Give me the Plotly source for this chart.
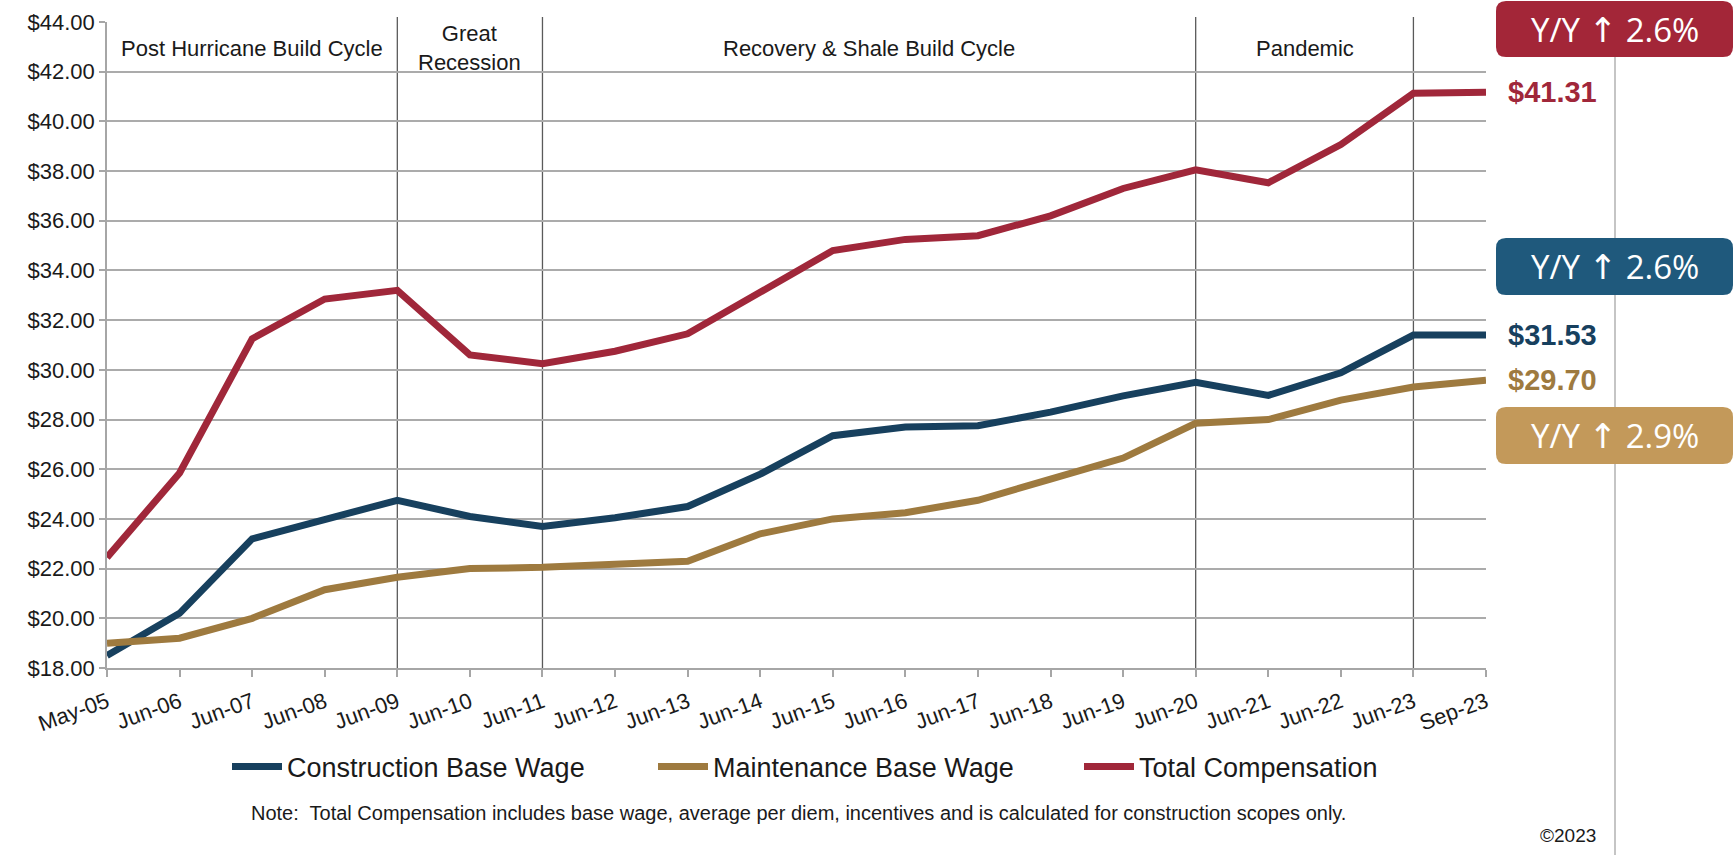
import plotly.graph_objects as go

# ---------------- data ----------------
categories = ["May-05", "Jun-06", "Jun-07", "Jun-08", "Jun-09", "Jun-10", "Jun-11",
              "Jun-12", "Jun-13", "Jun-14", "Jun-15", "Jun-16", "Jun-17", "Jun-18",
              "Jun-19", "Jun-20", "Jun-21", "Jun-22", "Jun-23", "Sep-23"]

construction_base = [18.50, 20.20, 23.20, 23.95, 24.75, 24.10, 23.70, 24.05, 24.50, 25.80,
                     27.35, 27.70, 27.75, 28.30, 28.95, 29.50, 28.97, 29.88, 31.40, 31.40]
maintenance_base = [19.00, 19.20, 20.00, 21.15, 21.65, 22.00, 22.05, 22.15, 22.30, 23.40,
                    24.00, 24.25, 24.75, 25.60, 26.45, 27.85, 28.00, 28.78, 29.31, 29.58]
total_compensation = [22.45, 25.85, 31.25, 32.85, 33.20, 30.60, 30.25, 30.75, 31.45, 33.10,
                      34.80, 35.25, 35.40, 36.20, 37.30, 38.05, 37.53, 39.07, 41.13, 41.17]

series_names = ["Construction Base Wage", "Maintenance Base Wage", "Total Compensation"]
latest_values = [31.53, 29.70, 41.31]
yoy_changes = [2.6, 2.9, 2.6]

period_labels = ["Post Hurricane Build Cycle", "Great<br>Recession",
                 "Recovery & Shale Build Cycle", "Pandemic"]
period_bounds = [0, 4, 6, 15, 18]
divider_positions = [4, 6, 15, 18]

y_ticks = [18, 20, 22, 24, 26, 28, 30, 32, 34, 36, 38, 40, 42, 44]

note_text = ("Note:  Total Compensation includes base wage, average per diem, incentives "
             "and is calculated for construction scopes only.")

# ---------------- styling ----------------
line_colors = ["#17405E", "#9E7A3F", "#A0273A"]
box_colors = ["#1F597C", "#C3995A", "#A32638"]

W, H = 1735, 855
L, R, T, B = 107, 249, 22, 187
pw, ph = W - L - R, H - T - B


def px_x(px):
    return (px - L) / pw


def px_y(py):
    return 1 - (py - T) / ph


x_idx = list(range(len(categories)))
series_values = [construction_base, maintenance_base, total_compensation]

fig = go.Figure()
for name, vals, col in zip(series_names, series_values, line_colors):
    fig.add_trace(go.Scatter(x=x_idx, y=vals, mode="lines", name=name,
                             line=dict(color=col, width=7), hoverinfo="skip"))

shapes = []
# period dividers
for d in divider_positions:
    shapes.append(dict(type="line", xref="x", yref="paper", x0=d, x1=d, y0=0, y1=px_y(17),
                       line=dict(color="#5A5A5A", width=1.3), layer="below"))

# right vertical line
shapes.append(dict(type="line", xref="paper", yref="paper", x0=px_x(1615), x1=px_x(1615),
                   y0=px_y(40), y1=px_y(855), line=dict(color="#A6A6A6", width=1.3)))


def rounded_box(x0p, y0p, x1p, y1p, r, color):
    X = px_x
    Y = px_y
    path = (f"M{X(x0p + r)},{Y(y0p)} L{X(x1p - r)},{Y(y0p)} "
            f"Q{X(x1p)},{Y(y0p)} {X(x1p)},{Y(y0p + r)} "
            f"L{X(x1p)},{Y(y1p - r)} Q{X(x1p)},{Y(y1p)} {X(x1p - r)},{Y(y1p)} "
            f"L{X(x0p + r)},{Y(y1p)} Q{X(x0p)},{Y(y1p)} {X(x0p)},{Y(y1p - r)} "
            f"L{X(x0p)},{Y(y0p + r)} Q{X(x0p)},{Y(y0p)} {X(x0p + r)},{Y(y0p)} Z")
    return dict(type="path", xref="paper", yref="paper", path=path,
                fillcolor=color, line=dict(width=0))


box_pixel_rows = [(238, 295), (407, 464), (1, 57)]
for (y0p, y1p), col in zip(box_pixel_rows, box_colors):
    shapes.append(rounded_box(1496, y0p, 1733, y1p, 10, col))

annotations = []
# period labels
for i, lab in enumerate(period_labels):
    cx = (period_bounds[i] + period_bounds[i + 1]) / 2
    annotations.append(dict(x=cx, y=px_y(48), xref="x", yref="paper", text=lab,
                            showarrow=False, xanchor="center", yanchor="middle",
                            font=dict(family="Liberation Sans", size=22, color="#1A1A1A")))

# latest value labels at line ends
for vals, v, col in zip(series_values, latest_values, line_colors):
    annotations.append(dict(x=x_idx[-1], y=vals[-1], xref="x", yref="y",
                            text=f"<b>${v:.2f}</b>", showarrow=False, xanchor="left",
                            yanchor="middle", xshift=20,
                            font=dict(family="Liberation Sans", size=29, color=col)))

# Y/Y boxes text
for (y0p, y1p), chg in zip(box_pixel_rows, yoy_changes):
    annotations.append(dict(x=px_x(1615), y=px_y((y0p + y1p) / 2), xref="paper", yref="paper",
                            text=(f"Y/Y <span style='font-family:DejaVu Sans;font-size:34px'>"
                                  f"\u2191</span> {chg}%"),
                            showarrow=False, xanchor="center", yanchor="middle",
                            font=dict(family="Open Sans", size=33, color="white")))

# note
annotations.append(dict(x=px_x(798), y=px_y(813), xref="paper", yref="paper", text=note_text,
                        showarrow=False, xanchor="center", yanchor="middle",
                        font=dict(family="Liberation Sans", size=20, color="#1A1A1A")))
# copyright
annotations.append(dict(x=px_x(1568), y=px_y(836), xref="paper", yref="paper", text="\u00a92023",
                        showarrow=False, xanchor="center", yanchor="middle",
                        font=dict(family="Liberation Sans", size=19, color="#1A1A1A")))

fig.update_layout(
    width=W, height=H,
    margin=dict(l=L, r=R, t=T, b=B, autoexpand=False),
    paper_bgcolor="white", plot_bgcolor="white",
    shapes=shapes, annotations=annotations,
    showlegend=True,
    legend=dict(orientation="h", x=px_x(866), y=px_y(767), xanchor="center", yanchor="middle",
                font=dict(family="Liberation Sans", size=27, color="#1A1A1A"),
                itemwidth=50, traceorder="normal", entrywidth=361, entrywidthmode="pixels"),
    xaxis=dict(range=[0, len(categories) - 1], tickmode="array", tickvals=x_idx,
               ticktext=categories, tickangle=-20, showgrid=False, zeroline=False,
               showline=True, linecolor="#A6A6A6", linewidth=1.5,
               ticks="outside", ticklen=7, tickcolor="#A6A6A6", tickwidth=1.5,
               ticklabelstandoff=4,
               tickfont=dict(family="Liberation Sans", size=22, color="#1A1A1A")),
    yaxis=dict(range=[18, 44], tickmode="array", tickvals=y_ticks, tickformat="$.2f",
               showgrid=True, gridcolor="#ABABAB", gridwidth=1.5, zeroline=False,
               showline=True, linecolor="#A6A6A6", linewidth=1.5,
               ticks="outside", ticklen=6, tickcolor="#A6A6A6", tickwidth=1.5,
               tickfont=dict(family="Liberation Sans", size=22, color="#1A1A1A")),
)

fig.write_html("out.html")
